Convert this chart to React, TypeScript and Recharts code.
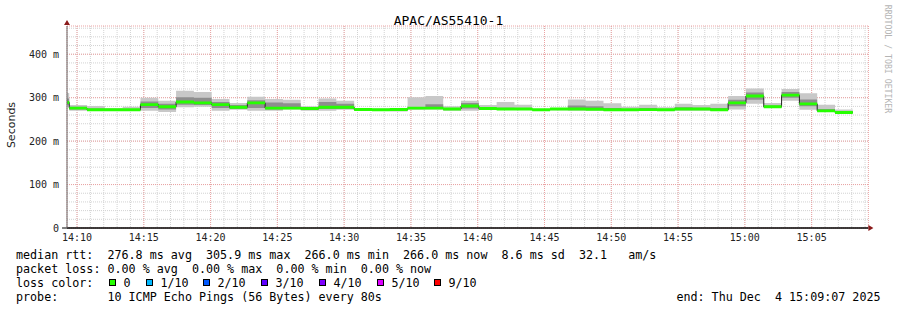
import React from 'react';
import {
  ComposedChart, Area, XAxis, YAxis, CartesianGrid, ReferenceLine, ReferenceDot,
} from 'recharts';

// step start times (80s steps), last entry closes the final step
const stepTimes = [
  '14:08:05', '14:09:25', '14:10:45', '14:12:05', '14:13:25', '14:14:45', '14:16:05', '14:17:25',
  '14:18:45', '14:20:05', '14:21:25', '14:22:45', '14:24:05', '14:25:25', '14:26:45', '14:28:05',
  '14:29:25', '14:30:45', '14:32:05', '14:33:25', '14:34:45', '14:36:05', '14:37:25', '14:38:45',
  '14:40:05', '14:41:25', '14:42:45', '14:44:05', '14:45:25', '14:46:45', '14:48:05', '14:49:25',
  '14:50:45', '14:52:05', '14:53:25', '14:54:45', '14:56:05', '14:57:25', '14:58:45', '15:00:05',
  '15:01:25', '15:02:45', '15:04:05', '15:05:25', '15:06:45', '15:08:05',
];

const medianRtt = [
  289, 276, 272, 272, 272, 284, 279, 290, 288, 284, 278, 288, 276, 276, 275, 278,
  278, 273, 272, 272.6, 276, 276, 274, 281, 275, 274, 274, 272, 274, 274, 273.5, 272,
  272, 272.5, 272, 274, 274, 272, 288, 304, 279, 305.9, 285.7, 269.6, 266,
];
const smokeMin = [
  279, 270, 270, 270, 270, 270, 267, 278, 279, 270, 272, 270, 270, 273, 270, 270,
  272, 270, 270, 268, 272, 273, 270, 270, 272, 272, 272, 271, 271, 270, 270, 270,
  270, 270, 270, 270, 270, 270, 273, 286, 276, 293, 272, 268, 266,
];
const smokeMax = [
  311, 283, 281, 276, 279, 300, 293, 316, 313, 297, 288, 302, 297, 295, 280, 298,
  293, 276, 275, 275, 301, 304, 280, 293, 283, 290, 284, 273, 276, 296, 293, 287,
  279, 284, 278, 286, 283, 286, 304, 321, 288, 320, 310, 284, 273,
];
const smokeLo = [
  284, 273, 271, 271, 271, 276, 273, 284, 283, 276, 274, 276, 273, 274, 272, 274,
  274, 271, 271, 270, 274, 275, 272, 275, 273, 273, 273, 271, 272, 273, 272, 271,
  271, 271, 271, 272, 272, 271, 280, 295, 277, 300, 280, 269, 266,
];
const smokeHi = [
  298, 279, 275, 273, 274, 291, 286, 301, 300, 290, 283, 294, 289, 287, 277, 290,
  286, 274, 273, 274, 278, 285, 276, 288, 278, 277, 276, 273, 275, 282, 280, 276,
  274, 276, 274, 278, 277, 276, 295, 312, 282, 313, 296, 274, 269,
];

const xTickLabels = ['14:10', '14:15', '14:20', '14:25', '14:30', '14:35', '14:40', '14:45', '14:50', '14:55', '15:00', '15:05'];
const yTicks = [0, 100, 200, 300, 400];
const yTickLabels = ['0', '100 m', '200 m', '300 m', '400 m'];

const lossLabels = ['0', '1/10', '2/10', '3/10', '4/10', '5/10', '9/10'];
const lossColors = ['#26ff00', '#00b8ff', '#0059ff', '#5e00ff', '#7e00ff', '#dd00ff', '#ff0000'];
const lossBoxX = [109, 146, 203, 261, 319, 377, 434];

const legendLines = [
  'median rtt:  276.8 ms avg  305.9 ms max  266.0 ms min  266.0 ms now  8.6 ms sd  32.1   am/s',
  'packet loss: 0.00 % avg  0.00 % max  0.00 % min  0.00 % now',
  'loss color:',
  'probe:       10 ICMP Echo Pings (56 Bytes) every 80s',
];
const endText = 'end: Thu Dec  4 15:09:07 2025';

const toMin = (s: string) => {
  const [h, m, sec] = s.split(':').map(Number);
  return (h - 14) * 60 + m + (sec || 0) / 60;
};

const BAND = 3.4;
const data = stepTimes.map((t, i) => {
  const j = Math.min(i, medianRtt.length - 1);
  const m = medianRtt[j];
  return {
    t: toMin(t),
    outer: [smokeMin[j], smokeMax[j]],
    inner: [smokeLo[j], smokeHi[j]],
    band: [m - BAND, m + BAND],
    median: m,
  };
});

const X0 = 9.25;
const X1 = 69.25;
const YMAX = 465;
const xTicks = xTickLabels.map(l => toMin(l));
const xMinor: number[] = [];
for (let v = 10; v <= 69; v++) xMinor.push(v);
const yMinor: number[] = [];
for (let v = 20; v <= 460; v += 20) yMinor.push(v);

// use the axis scale when recharts hands one over, else map through the plot offset
const scaleOf = (axis: any, v: number, fallback: number) => {
  const s = axis?.scale;
  if (typeof s === 'function') return s(v);
  if (s && typeof s.map === 'function') return s.map(v);
  return fallback;
};

const mono = '"DejaVu Sans Mono", monospace';

export default function App() {
  return (
    <div style={{ position: 'absolute', left: 0, top: 0, width: 897, height: 310, background: '#fff' }}>
      <ComposedChart width={897} height={310} data={data} margin={{ top: 26, right: 28.6, bottom: 62, left: 0 }}>
        <CartesianGrid
          stroke="#d2d2d2" strokeDasharray="1 1"
          verticalCoordinatesGenerator={({ xAxis, offset }: any) =>
            xMinor.map(v => scaleOf(xAxis, v, offset.left + ((v - X0) / (X1 - X0)) * offset.width))}
          horizontalCoordinatesGenerator={({ yAxis, offset }: any) =>
            yMinor.map(v => scaleOf(yAxis, v, offset.top + (1 - v / YMAX) * offset.height))}
        />
        <CartesianGrid stroke="#eba3a3" strokeDasharray="1 1" />
        <XAxis
          dataKey="t" type="number" domain={[X0, X1]} ticks={xTicks} allowDataOverflow
          height={20} tickSize={0} tickMargin={6} axisLine={{ stroke: '#000' }}
          tick={{ fontFamily: mono, fontSize: 10, fill: '#222' }}
          tickFormatter={(v: number) => xTickLabels[xTicks.indexOf(v)] ?? ''}
        />
        <YAxis
          type="number" domain={[0, YMAX]} ticks={yTicks} allowDataOverflow width={67}
          tickLine={false} tickSize={0} tickMargin={8} axisLine={{ stroke: '#666' }}
          tick={{ fontFamily: mono, fontSize: 10, fill: '#222' }}
          tickFormatter={(v: number) => yTickLabels[yTicks.indexOf(v)] ?? ''}
        />
        <Area dataKey="outer" type="stepAfter" stroke="none" fill="#c8c8c8" fillOpacity={1} isAnimationActive={false} activeDot={false} />
        <Area dataKey="inner" type="stepAfter" stroke="none" fill="#8e8e8e" fillOpacity={1} isAnimationActive={false} activeDot={false} />
        <Area dataKey="median" type="stepAfter" stroke="#202020" strokeWidth={1} fill="none" isAnimationActive={false} activeDot={false} />
        <Area dataKey="band" type="stepAfter" stroke="none" fill="#26ff00" fillOpacity={1} isAnimationActive={false} activeDot={false} />
        <ReferenceLine segment={[{ x: 8.88, y: 0 }, { x: X1, y: 0 }]} stroke="#000" ifOverflow="visible" />
        <ReferenceDot
          x={X1} y={0} ifOverflow="visible"
          shape={(p: any) => <polygon points={`${p.cx},${p.cy - 3} ${p.cx + 5},${p.cy} ${p.cx},${p.cy + 3}`} fill="#8b1a1a" />}
        />
        <ReferenceDot
          x={X0} y={YMAX} ifOverflow="visible"
          shape={(p: any) => <polygon points={`${p.cx - 3},${p.cy - 1} ${p.cx},${p.cy - 6} ${p.cx + 3},${p.cy - 1}`} fill="#8b1a1a" />}
        />
      </ComposedChart>
      <svg width={897} height={310} style={{ position: 'absolute', left: 0, top: 0, pointerEvents: 'none' }}>
        <text x={448.5} y={24.7} textAnchor="middle" fontFamily={mono} fontSize={13} fill="#000">APAC/AS55410-1</text>
        <text transform="translate(15,125) rotate(-90)" textAnchor="middle" fontFamily='"DejaVu Sans", sans-serif' fontSize={11} fill="#222">Seconds</text>
        <text transform="translate(885,59) rotate(90)" textAnchor="middle" fontFamily={mono} fontSize={8.2} fill="#b4b4b4">RRDTOOL / TOBI OETIKER</text>
        {legendLines.map((l, i) => (
          <text key={i} x={16} y={258.5 + i * 14} fontFamily={mono} fontSize={11.7} fill="#000" style={{ whiteSpace: 'pre' }}>{l}</text>
        ))}
        {lossLabels.map((l, i) => (
          <g key={l}>
            <rect x={lossBoxX[i] + 0.5} y={279.5} width={6} height={6} fill={lossColors[i]} stroke="#000" strokeWidth={1} />
            <text x={lossBoxX[i] + 14.5} y={286.5} fontFamily={mono} fontSize={11.7} fill="#000">{l}</text>
          </g>
        ))}
        <text x={880.5} y={300.5} textAnchor="end" fontFamily={mono} fontSize={11.7} fill="#000" style={{ whiteSpace: 'pre' }}>{endText}</text>
      </svg>
    </div>
  );
}
